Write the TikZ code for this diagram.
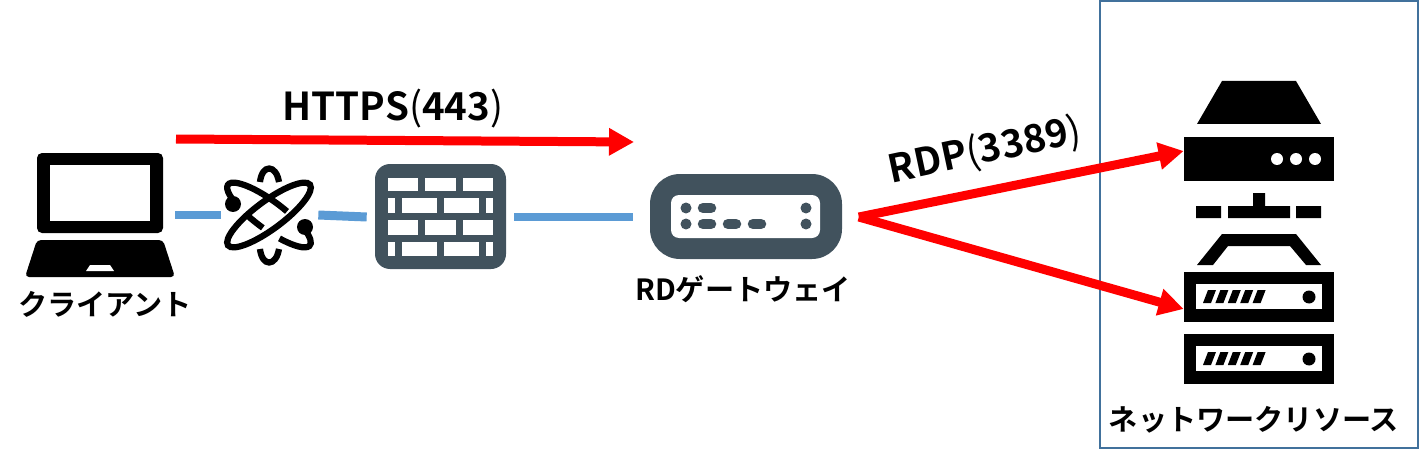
\documentclass[tikz,border=0pt]{standalone}
\usepackage{fontspec}
\usepackage{xcolor}
\setmainfont{Noto Sans CJK JP}[BoldFont={* Bold}]
\usetikzlibrary{arrows.meta}
\definecolor{slateicon}{HTML}{41525D}
\definecolor{linkblue}{HTML}{5B9BD5}
\definecolor{framblue}{HTML}{41719C}
\begin{document}
\begin{tikzpicture}[x=0.02cm,y=-0.02cm,
    anchorbox/.style={inner sep=0pt,minimum height=1pt},
    bluelink/.style={linkblue,line width=0.18cm},
    redlink/.style={red,line width=0.18cm,-{Triangle[length=0.5cm,width=0.52cm]}},
    caption/.style={font=\bfseries\fontsize{16.6}{18}\selectfont,inner sep=0pt},
    protocol/.style={font=\bfseries\fontsize{21.9}{24}\selectfont,inner sep=0pt},
    orbit/.style={line width=0.125cm}]
      \useasboundingbox (0,0) rectangle (1420,456);
      \draw[framblue,line width=0.05cm] (1100,1) rectangle (1418,448);
      % laptop
      \fill[rounded corners=0.1cm] (37,233) -- (37,153) -- (163,153) -- (163,233) -- cycle;
      \fill[white] (50,165) rectangle (150,221);
      \fill[rounded corners=0.08cm] (37,240) -- (163,240) -- (175,277) -- (25,277) -- cycle;
      \fill[white] (90,265) -- (110,265) -- (114,271) -- (86,271) -- cycle;
      % atom
      \draw[orbit,rotate around={36.5:(269,215)}] (269,215) ellipse [x radius=51,y radius=14];
      \begin{scope}[shift={(269,215)},rotate=-36.5]
        \draw[orbit] (-76:51 and 14) arc[start angle=-76,end angle=-227,x radius=51,y radius=14];
        \draw[orbit] (64:51 and 14) arc[start angle=64,end angle=-45,x radius=51,y radius=14];
        \draw[orbit] (109:51 and 14) arc[start angle=109,end angle=87,x radius=51,y radius=14];
      \end{scope}
      \fill (233,204) circle (0.16cm) (305,227) circle (0.16cm);
      \draw[orbit] (260,182) .. controls (262,164) and (276,164) .. (279,182);
      \draw[orbit] (260,249) .. controls (262,267) and (276,267) .. (279,249);
      % firewall
      \fill[slateicon,rounded corners=0.3cm] (375,164) rectangle (506,269);
      \foreach \u/\v in {178/191,220/235} {
        \foreach \a/\b in {388/418,425/456,463/493} \fill[white] (\a,\u) rectangle (\b,\v);
      }
      \foreach \u/\v in {198/213,242/256} {
        \foreach \a/\b in {388/395,402/437,444/479,486/493} \fill[white] (\a,\u) rectangle (\b,\v);
      }
      % gateway
      \fill[slateicon,rounded corners=0.6cm] (650,174) rectangle (842,259);
      \fill[white,rounded corners=0.16cm] (671,195) rectangle (820,238);
      \foreach \a/\u in {686/208,686/224,806/208,806/224} \fill[slateicon] (\a,\u) circle (0.11cm);
      \foreach \a/\u in {698/208,698/224,723/224,748/224}
        \draw[slateicon,line width=0.21cm,line cap=round] (\a+5,\u) -- (\a+13,\u);
      % web host
      \fill (1222,81) -- (1296,81) -- (1321,124) -- (1197,124) -- cycle;
      \fill (1184,137) rectangle (1334,181);
      \foreach \a in {1277,1296,1315} \fill[white] (\a,159) circle (0.12cm);
      \fill (1253,193) rectangle (1265,206) (1228,206) rectangle (1290,218);
      \fill (1196,206) rectangle (1221,218) (1296,206) rectangle (1321,218);
      \fill (1222,234) -- (1296,234) -- (1321,265) -- (1306,265) -- (1290,246) -- (1228,246) -- (1213,265) -- (1197,265) -- cycle;
      % file hosts
      \foreach \u in {272,334} {
        \fill (1184,\u) rectangle (1334,\u+50);
        \fill[white] (1196,\u+12) rectangle (1322,\u+37);
        \foreach \a in {0,12.4,24.8,37.2,49.6}
          \fill (1203+\a,\u+31) -- (1208+\a,\u+18) -- (1216+\a,\u+18) -- (1211+\a,\u+31) -- cycle;
        \fill (1309,\u+25) circle (0.13cm);
      }
      % anchors for the links
      \node[anchorbox,minimum width=3cm] (laptop) at (100,215) {};
      \node[anchorbox,minimum width=1.94cm] (atom) at (269.5,215) {};
      \node[anchorbox,minimum width=2.94cm] (firewall) at (440.5,217) {};
      \node[anchorbox,minimum width=4.5cm] (gateway) at (746,217) {};
      \node[anchorbox,minimum width=3cm] (webhost) at (1259,151) {};
      \node[anchorbox,minimum width=3cm] (filehost) at (1259,309) {};
      \coordinate (httpsstart) at (176,139);
      \coordinate (httpsend) at (634,142);
      \draw[bluelink] (laptop.east) -- (atom.west);
      \draw[bluelink] (atom.east) -- (firewall.west);
      \draw[bluelink] (firewall.east) -- (gateway.west);
      \draw[redlink] (httpsstart) -- (httpsend);
      \draw[redlink] (gateway.east) -- (webhost.west);
      \draw[redlink] (gateway.east) -- (filehost.west);
      \node[caption] (clientlabel) at (105,304) {クライアント};
      \node[caption] (gatewaylabel) at (743,289) {RDゲートウェイ};
      \node[caption] (resourcelabel) at (1254,420) {ネットワークリソース};
      \node[protocol] (httpslabel) at (393,109) {HTTPS{\mdseries(}443{\mdseries)}};
      \node[protocol,rotate=12] (rdplabel) at (985,151) {RDP{\mdseries(}3389{\mdseries)}};
    \end{tikzpicture}
\end{document}
